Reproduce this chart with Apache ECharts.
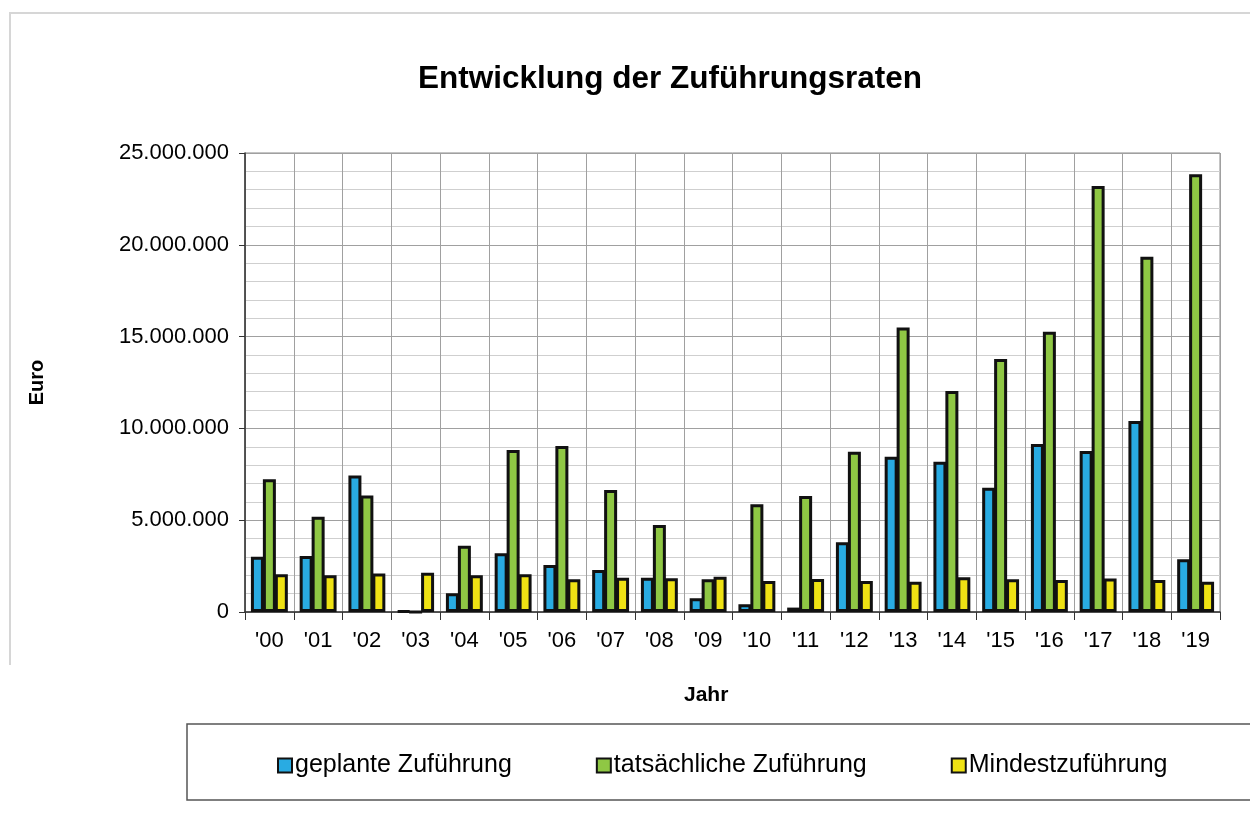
<!DOCTYPE html>
<html>
<head>
<meta charset="utf-8">
<script src="https://cdn.jsdelivr.net/npm/echarts@6/dist/echarts.min.js"></script>
<style>
  html, body { margin: 0; padding: 0; background: #fff; }
  #chart { width: 1250px; height: 819px; }
</style>
</head>
<body>
<div id="chart"></div>
<script>
// Jahre
var jahre = ["'00", "'01", "'02", "'03", "'04", "'05", "'06", "'07", "'08", "'09",
             "'10", "'11", "'12", "'13", "'14", "'15", "'16", "'17", "'18", "'19"];

// geplante Zuführung
var geplant = [3010000, 3050000, 7430000, 50000, 1020000, 3200000, 2560000, 2290000, 1870000, 750000,
               420000, 240000, 3800000, 8460000, 8190000, 6770000, 9150000, 8770000, 10400000, 2870000];

// tatsächliche Zuführung
var tatsaechlich = [7230000, 5190000, 6340000, 0, 3610000, 8820000, 9040000, 6640000, 4740000, 1780000,
                    5870000, 6320000, 8730000, 15490000, 12040000, 13780000, 15270000, 23200000, 19350000, 23840000];

// Mindestzuführung
var mindest = [2050000, 2000000, 2100000, 2140000, 2000000, 2050000, 1780000, 1870000, 1840000, 1920000,
               1690000, 1800000, 1690000, 1650000, 1890000, 1780000, 1740000, 1830000, 1740000, 1650000];

function tausender(v) {
    // 25000000 -> 25.000.000
    return String(v).replace(/\B(?=(\d{3})+(?!\d))/g, '.');
}

var schrift = 'Liberation Sans, Arial, sans-serif';
var myChart = echarts.init(document.getElementById('chart'));

function balken(name, werte, farbe) {
    return {
        name: name,
        type: 'bar',
        data: werte,
        barWidth: 13,
        barGap: '-8%',
        itemStyle: { color: farbe, borderColor: '#111', borderWidth: 3 }
    };
}

option = {
    backgroundColor: '#fff',
    animation: false,
    textStyle: { fontFamily: schrift, color: '#000' },
    title: {
        text: 'Entwicklung der Zuführungsraten',
        left: 665,
        textAlign: 'center',
        top: 58,
        textStyle: { fontSize: 31.5, fontWeight: 'bold', color: '#000', fontFamily: schrift }
    },
    graphic: [
        {
            type: 'polyline',
            shape: { points: [[10, 665], [10, 13], [1250, 13]] },
            style: { stroke: '#d6d6d6', lineWidth: 2, fill: null },
            silent: true
        },
        {
            type: 'rect',
            shape: { x: 187, y: 724, width: 1080, height: 76 },
            style: { stroke: '#555', lineWidth: 1.5, fill: null },
            silent: true
        },
        {
            type: 'text',
            left: 684,
            top: 685,
            style: { text: 'Jahr', fontSize: 21, fontWeight: 'bold', fill: '#000', fontFamily: schrift },
            silent: true
        }
    ],
    legend: {
        left: 272,
        top: 748,
        itemGap: 84,
        itemWidth: 14,
        itemHeight: 14,
        icon: 'rect',
        textStyle: { fontSize: 25, color: '#000', fontFamily: schrift, padding: [0, 0, 0, -2] },
        data: ['geplante Zuführung', 'tatsächliche Zuführung', 'Mindestzuführung']
    },
    grid: {
        left: 245,
        right: 30,
        top: 153,
        bottom: 207,
        show: true,
        borderColor: '#888',
        borderWidth: 1
    },
    xAxis: {
        type: 'category',
        data: jahre,
        axisLine: { lineStyle: { color: '#333', width: 1.5 } },
        axisTick: { show: true, length: 8, lineStyle: { color: '#333' } },
        axisLabel: { fontSize: 22, color: '#000', margin: 18 },
        splitLine: { show: true, lineStyle: { color: '#a0a0a0', width: 1 } }
    },
    yAxis: {
        type: 'value',
        min: 0,
        max: 25000000,
        interval: 5000000,
        name: 'Euro',
        nameLocation: 'middle',
        nameGap: 198,
        nameTextStyle: { fontSize: 20, fontWeight: 'bold', color: '#000' },
        axisLine: { show: true, lineStyle: { color: '#333', width: 1.5 } },
        axisTick: { show: true, length: 6, lineStyle: { color: '#333' } },
        axisLabel: { fontSize: 22, color: '#000', margin: 16, formatter: tausender },
        splitLine: { show: true, lineStyle: { color: '#a0a0a0', width: 1 } },
        minorTick: { show: false, splitNumber: 5 },
        minorSplitLine: { show: true, lineStyle: { color: '#cfcfcf', width: 1 } }
    },
    series: [
        balken('geplante Zuführung', geplant, '#29abe2'),
        balken('tatsächliche Zuführung', tatsaechlich, '#8fc744'),
        balken('Mindestzuführung', mindest, '#efe214')
    ]
};

myChart.setOption(option);
</script>
</body>
</html>
